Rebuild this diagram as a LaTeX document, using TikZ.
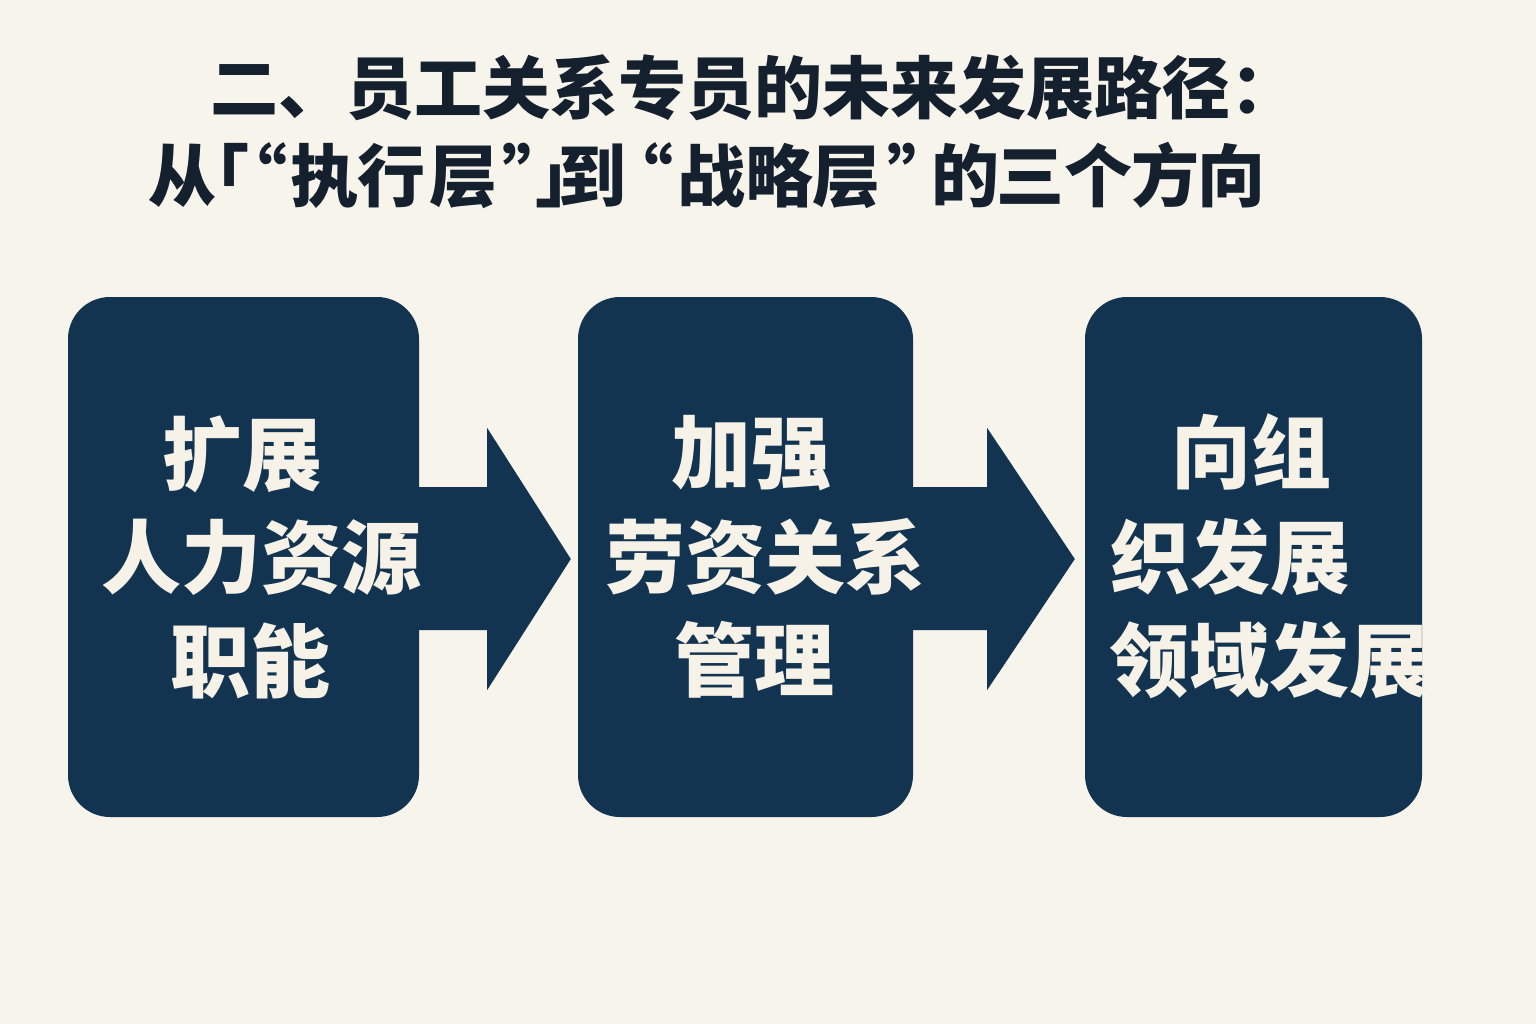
\documentclass[tikz,border=0pt]{standalone}
\usepackage{fontspec}
\newfontfamily\cjk{Noto Sans CJK SC}
\newfontfamily\cjkp{Noto Sans CJK SC}[RawFeature=+palt]
\usetikzlibrary{calc}
\definecolor{bgc}{HTML}{F7F4EB}
\definecolor{navy}{HTML}{123450}
\definecolor{titlec}{HTML}{14202E}
\definecolor{creamtxt}{HTML}{F6F2E7}
\newcommand\ctrglyph[1]{\makebox[0pt][c]{#1}}
\tikzset{
  card/.style={fill=navy, draw=none, rounded corners=42pt, inner sep=0pt},
  cardtext/.style={anchor=base, inner sep=0pt, text=creamtxt, font=\cjk\bfseries\fontsize{80}{80}\selectfont},
  titletext/.style={anchor=base west, inner sep=0pt, text=titlec, font=\cjk\bfseries\fontsize{68}{68}\selectfont},
  flowarrow/.style={fill=navy, draw=none}
}
\begin{document}
\begin{tikzpicture}[x=1pt,y=-1pt]
\useasboundingbox (0,0) rectangle (1536,1024);
\fill[bgc] (0,0) rectangle (1536,1024);

% title
\node[titletext] (t1) at (210,114) {二、员工关系专员的未来发展路径：};
\node[titletext, font=\cjkp\bfseries\fontsize{68}{68}\selectfont] (t2) at (182,202) {%
\ctrglyph{从}\kern49pt\ctrglyph{「}\kern39.5pt\ctrglyph{“}\kern53.5pt\ctrglyph{执}\kern67.5pt%
\ctrglyph{行}\kern71.5pt\ctrglyph{层}\kern57pt\ctrglyph{”}\kern33pt\ctrglyph{」}\kern39pt%
\ctrglyph{到}\kern64pt\ctrglyph{“}\kern55pt\ctrglyph{战}\kern68pt\ctrglyph{略}\kern67pt%
\ctrglyph{层}\kern59pt\ctrglyph{”}\kern60pt\ctrglyph{的}\kern65pt\ctrglyph{三}\kern68pt%
\ctrglyph{个}\kern67pt\ctrglyph{方}\kern66pt\ctrglyph{向}};

% cards
\node[card, minimum width=351pt, minimum height=520pt] (b1) at (243.5,557) {};
\node[card, minimum width=335pt, minimum height=520pt] (b2) at (745.5,557) {};
\node[card, minimum width=337pt, minimum height=520pt] (b3) at (1253.5,557) {};

% arrows
\coordinate (tip1) at ($(b2.west)+(-7,2)$);
\coordinate (tip2) at ($(b3.west)+(-10,2)$);
\fill[flowarrow] ($(b1.east)+(-10,-70)$) -- ($(b1.east)+(68,-70)$) -- ($(b1.east)+(68,-129)$) -- (tip1)
  -- ($(b1.east)+(68,133)$) -- ($(b1.east)+(68,73)$) -- ($(b1.east)+(-10,73)$) -- cycle;
\fill[flowarrow] ($(b2.east)+(-10,-70)$) -- ($(b2.east)+(74,-70)$) -- ($(b2.east)+(74,-129)$) -- (tip2)
  -- ($(b2.east)+(74,133)$) -- ($(b2.east)+(74,73)$) -- ($(b2.east)+(-10,73)$) -- cycle;

% card texts
\node[cardtext] (a1) at (242.5,484.5) {扩展};
\node[cardtext] (a2) at (261.5,587.5) {人力资源};
\node[cardtext] (a3) at (250.5,691.5) {职能};
\node[cardtext] (c1) at (751,482.5) {加强};
\node[cardtext] (c2) at (765,587.5) {劳资关系};
\node[cardtext] (c3) at (754.5,690.5) {管理};
\node[cardtext] (d1) at (1251.5,482.5) {向组};
\node[cardtext] (d2) at (1230.5,587.5) {织发展};
\node[cardtext] (d3) at (1269.5,690.5) {领域发展};
\end{tikzpicture}
\end{document}
